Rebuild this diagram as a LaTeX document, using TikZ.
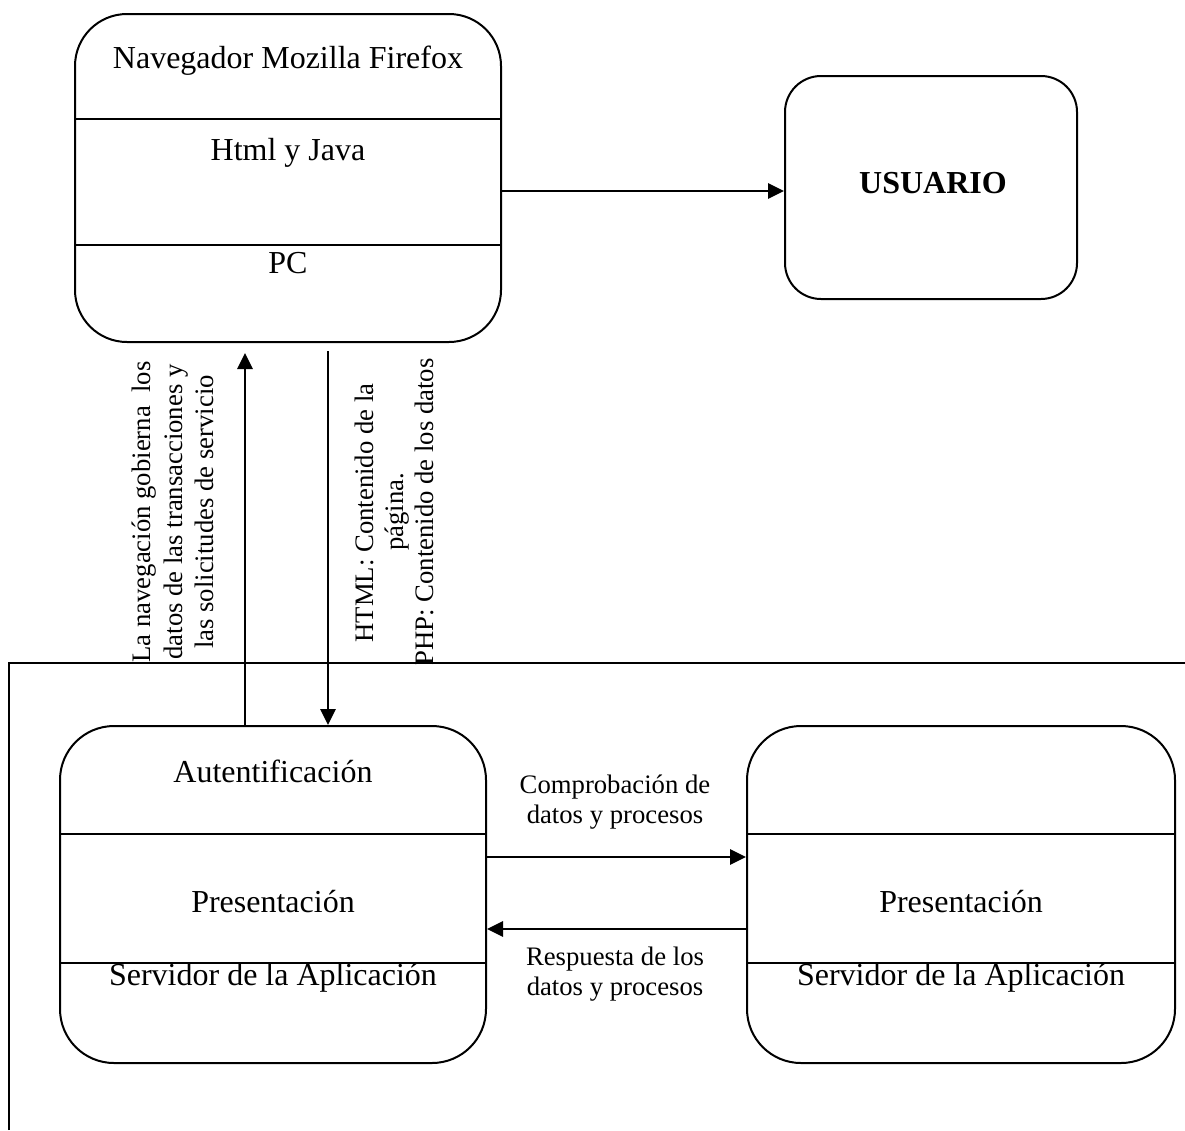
\documentclass[tikz,border=0pt]{standalone}
\usepackage{fontspec}
\setmainfont{Liberation Serif}
\usetikzlibrary{arrows.meta}
\begin{document}
\begin{tikzpicture}[x=1pt,y=-1pt,
  box/.style={draw, line width=2pt, rounded corners=#1, inner sep=0pt},
  box/.default=52pt,
  divider/.style={line width=2pt},
  arr/.style={line width=2.8pt, -{Triangle[length=16pt,width=15pt]}},
  frameline/.style={line width=1.8pt},
  big/.style={font=\fontsize{32}{38}\selectfont, inner sep=0pt, anchor=base},
  bigb/.style={font=\fontsize{32}{38}\selectfont\bfseries, inner sep=0pt, anchor=base},
  small/.style={font=\fontsize{26.7}{31}\selectfont, inner sep=0pt, anchor=base},
  vsmall/.style={small, rotate=90}
]
\useasboundingbox (0,0) rectangle (1185,1130);
\fill[white] (0,0) rectangle (1185,1130);

% frame
\draw[frameline] (9,1130) -- (9,663) -- (1185,663);

% boxes
\node[box=52pt, minimum width=426pt, minimum height=328pt] (nav) at (288,178) {};
\node[box=36pt, minimum width=292pt, minimum height=223pt] (usr) at (931,187.5) {};
\node[box=54pt, minimum width=426pt, minimum height=337pt] (sv1) at (273,894.5) {};
\node[box=54pt, minimum width=428pt, minimum height=337pt] (sv2) at (961,894.5) {};

% dividers
\draw[divider] (nav.west |- 0,119) -- (nav.east |- 0,119);
\draw[divider] (nav.west |- 0,245) -- (nav.east |- 0,245);
\draw[divider] (sv1.west |- 0,834) -- (sv1.east |- 0,834);
\draw[divider] (sv2.west |- 0,834) -- (sv2.east |- 0,834);

% texts in boxes
\node[big] (t1) at (288,68) {Navegador Mozilla Firefox};
\node[big] (t2) at (288,160) {Html y Java};
\node[big] (t3) at (288,273) {PC};
\node[bigb] (t4) at (933,193) {USUARIO};
\node[big] (t5) at (273,782) {Autentificación};
\node[big] (t6) at (273,912) {Presentación};
\node[big] (t7) at (961,912) {Presentación};
\begin{scope}
  \clip (0,963.5) rectangle (1185,1060);
  \node[big] (t8) at (273,985) {Servidor de la Aplicación};
  \node[big] (t9) at (961,985) {Servidor de la Aplicación};
\end{scope}
\draw[divider] (sv1.west |- 0,963) -- (sv1.east |- 0,963);
\draw[divider] (sv2.west |- 0,963) -- (sv2.east |- 0,963);

% connectors
\draw[arr] (nav.east |- 0,191) -- (usr.west |- 0,191);
\draw[arr, shorten >=10pt] (sv1.north -| 245,0) -- (nav.south -| 245,0);
\draw[arr, shorten <=8pt] (nav.south -| 328,0) -- (sv1.north -| 328,0);
\draw[arr] (sv1.east |- 0,857) -- (sv2.west |- 0,857);
\draw[arr] (sv2.west |- 0,929) -- (sv1.east |- 0,929);

% connector labels
\node[vsmall] (l1) at (150,512) {La navegación gobierna\ \ los};
\node[vsmall] (l2) at (182,512) {datos de las transacciones y};
\node[vsmall] (l3) at (213,512) {las solicitudes de servicio};
\node[vsmall] (r1) at (373,513) {HTML: Contenido de la};
\node[vsmall] (r2) at (403,512) {página.};
\node[vsmall] (r3) at (433,512) {PHP: Contenido de los datos};
\node[small] (c1) at (615,793) {Comprobación de};
\node[small] (c2) at (615,823) {datos y procesos};
\node[small] (d1) at (615,965) {Respuesta de los};
\node[small] (d2) at (615,995) {datos y procesos};
\end{tikzpicture}
\end{document}
